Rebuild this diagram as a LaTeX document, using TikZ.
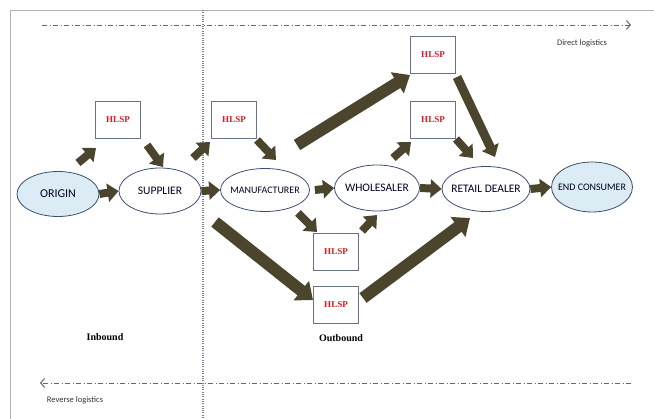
\documentclass[tikz,border=0pt]{standalone}
\usepackage{fontspec}
\setmainfont{Carlito}
\newfontfamily\timesfont{Liberation Serif}
\usepackage{xcolor}
\usetikzlibrary{shapes.geometric,arrows.meta}
\definecolor{flowbrown}{RGB}{75,69,45}
\definecolor{rimblue}{RGB}{60,78,108}
\definecolor{paleblue}{RGB}{219,236,244}
\definecolor{hlspred}{RGB}{210,30,40}
\definecolor{boxgray}{RGB}{105,115,135}
\definecolor{lineblue}{RGB}{95,105,125}
\definecolor{splitblue}{RGB}{120,130,150}

\begin{document}
\begin{tikzpicture}[x=1pt,y=-1pt,
    stage/.style={shape=ellipse, draw=rimblue, line width=0.8pt, inner xsep=-6pt, inner ysep=0pt,
      text=black!85!blue, font=\fontsize{11.5}{12}\selectfont},
    endstage/.style={stage, fill=paleblue},
    hlsp/.style={shape=rectangle, draw=boxgray, line width=1pt, fill=white, minimum width=45pt,
      minimum height=37pt, inner sep=0pt, text=hlspred, font=\timesfont\bfseries\fontsize{9}{10}\selectfont},
    flow/.style={draw=flowbrown, line width=8pt, -{Triangle[width=18pt,length=11pt]}},
    bigflow/.style={draw=flowbrown, line width=12pt, -{Triangle[width=24pt,length=15pt]}},
    logline/.style={draw=lineblue, line width=0.8pt, dash pattern=on 5pt off 2.5pt on 1pt off 2.5pt},
    small/.style={font=\fontsize{8.5}{9}\selectfont, text=black!80},
    side/.style={font=\timesfont\bfseries\fontsize{10}{11}\selectfont}]
    \useasboundingbox (0,0) rectangle (654,419);

    % frame and the inbound / outbound split
    \draw[gray!60, line width=0.8pt] (10,419) -- (10,10) -- (654,10);
    \draw[splitblue, line width=1.5pt, dash pattern=on 1pt off 1.3pt] (203,10) -- (203,419);

    % logistics directions
    \coordinate (directS) at (42,25);
    \coordinate (directE) at (631,25);
    \coordinate (reverseS) at (631,383);
    \coordinate (reverseE) at (40,383);
    \draw[logline, -{Straight Barb[length=4pt,width=9pt,line width=1pt]}] (directS) -- (directE);
    \draw[logline, -{Straight Barb[length=4pt,width=9pt,line width=1pt]}] (reverseS) -- (reverseE);
    \node[small] (directlbl) at (582,43) {Direct logistics};
    \node[small] (reverselbl) at (75,400) {Reverse logistics};
    \node[side] (inbound) at (105,337) {Inbound};
    \node[side] (outbound) at (341,338) {Outbound};

    % chain members
    \node[endstage, minimum width=82pt, minimum height=45pt, font=\fontsize{12}{13}\selectfont] (origin) at (58,194) {ORIGIN};
    \node[stage, minimum width=82pt, minimum height=46pt] (supplier) at (160,191) {SUPPLIER};
    \node[stage, minimum width=89pt, minimum height=43pt, font=\fontsize{10}{11}\selectfont] (manufacturer) at (265,190) {MANUFACTURER};
    \node[stage, minimum width=85pt, minimum height=46pt] (wholesaler) at (377,188) {WHOLESALER};
    \node[stage, minimum width=88pt, minimum height=45pt] (retailer) at (486,189) {RETAIL DEALER};
    \node[endstage, minimum width=81pt, minimum height=50pt, font=\fontsize{10}{11}\selectfont] (consumer) at (592,187) {END CONSUMER};

    % logistics providers
    \node[hlsp] (hlspA) at (118,120) {HLSP};
    \node[hlsp] (hlspB) at (234,120) {HLSP};
    \node[hlsp] (hlspC) at (433,55) {HLSP};
    \node[hlsp] (hlspD) at (433,120) {HLSP};
    \node[hlsp] (hlspE) at (336,252) {HLSP};
    \node[hlsp] (hlspF) at (336,305) {HLSP};

    % flows
    \draw[flow] ([shift={(20,-31)}]origin.center) -- ([shift={(-22,28)}]hlspA.center);
    \draw[flow] ([shift={(29,25)}]hlspA.center) -- ([shift={(3,-24)}]supplier.center);
    \draw[flow] (origin.east) -- (supplier.west);
    \draw[flow] ([shift={(33,-33)}]supplier.center) -- ([shift={(-24,22)}]hlspB.center);
    \draw[flow] ([shift={(23,20)}]hlspB.center) -- ([shift={(11,-30)}]manufacturer.center);
    \draw[flow] (supplier.east) -- (manufacturer.west);
    \draw[flow] ([shift={(5,0)}]manufacturer.east) -- (wholesaler.west);
    \draw[bigflow] ([shift={(32,-45)}]manufacturer.center) -- ([shift={(-23,20)}]hlspC.center);
    \draw[flow, line width=9pt] ([shift={(24,22)}]hlspC.center) -- ([shift={(9,-32)}]retailer.center);
    \draw[flow] ([shift={(16,-30)}]wholesaler.center) -- ([shift={(-22,22)}]hlspD.center);
    \draw[flow] (hlspD.south east) -- ([shift={(-13,-31)}]retailer.center);
    \draw[flow] (wholesaler.east) -- (retailer.west);
    \draw[flow] (retailer.east) -- (consumer.west);
    \draw[flow] ([shift={(33,23)}]manufacturer.center) -- ([shift={(-19,-20)}]hlspE.center);
    \draw[flow] ([shift={(26,-21)}]hlspE.center) -- ([shift={(0,27)}]wholesaler.center);
    \draw[bigflow] ([shift={(-50,32)}]manufacturer.center) -- ([shift={(-23,-5)}]hlspF.center);
    \draw[bigflow] ([shift={(27,-7)}]hlspF.center) -- ([shift={(-16,29)}]retailer.center);
\end{tikzpicture}
\end{document}
